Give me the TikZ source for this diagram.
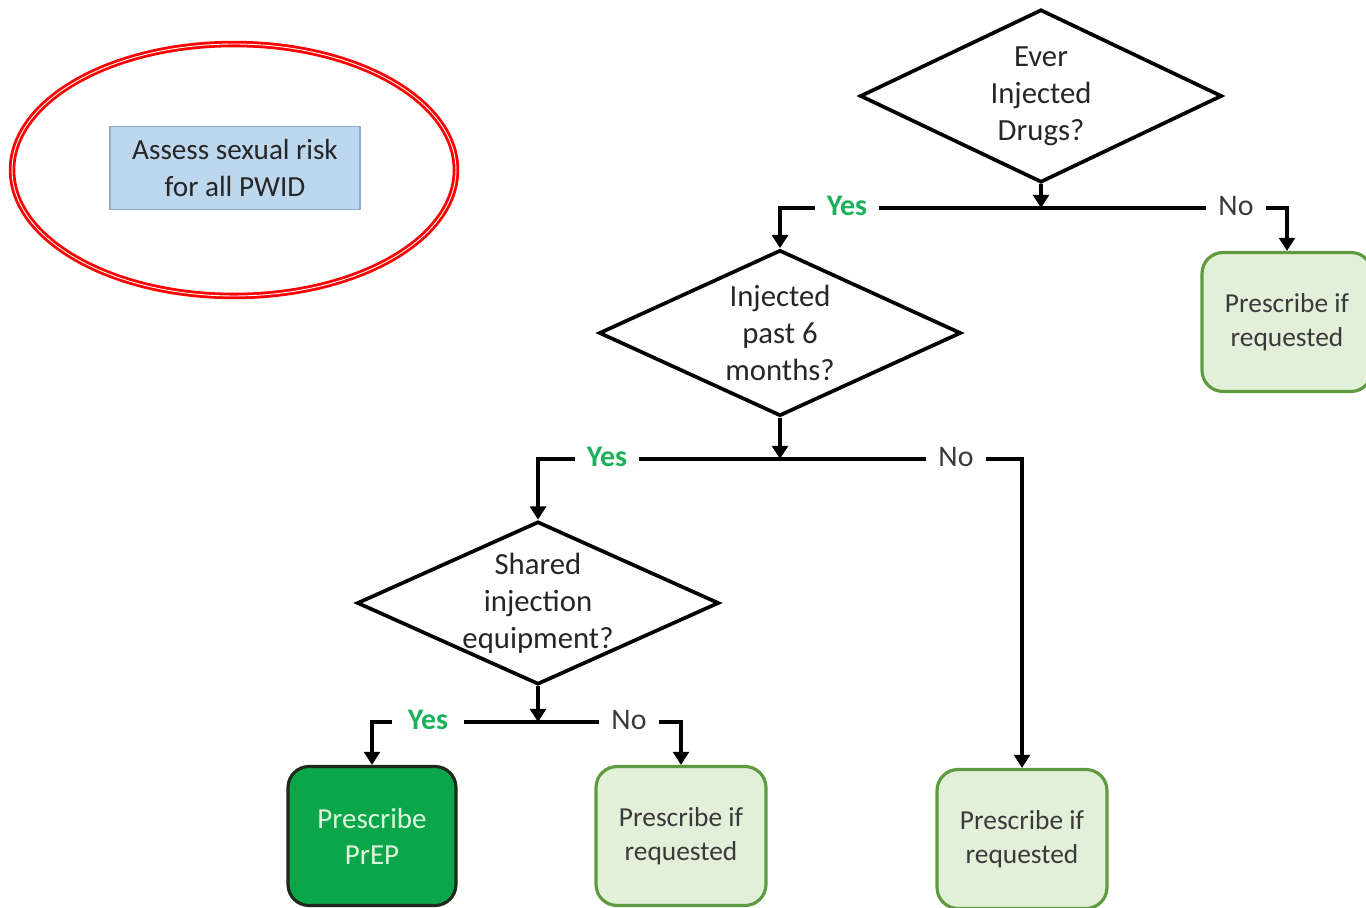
\documentclass[tikz,border=0pt]{standalone}
\usepackage{fontspec}
\setmainfont{Carlito}
\usetikzlibrary{arrows.meta,shapes.geometric}
\definecolor{yesgreen}{HTML}{1BB15A}
\definecolor{prepgreen}{HTML}{0CA64A}
\definecolor{prepedge}{HTML}{1C2A1C}
\definecolor{preptext}{HTML}{DDF5DD}
\definecolor{palegreen}{HTML}{E2EFD9}
\definecolor{edgegreen}{HTML}{5E9A40}
\definecolor{boxblue}{HTML}{BDD7EE}
\definecolor{edgeblue}{HTML}{8FAACB}
\definecolor{txtgray}{HTML}{3A3A3A}

\begin{document}
\begin{tikzpicture}[x=0.02cm,y=-0.02cm,>={Triangle[length=7.5pt,width=9pt]},
  question/.style={diamond,draw,line width=2.1pt,inner sep=0pt,aspect=2.1,
    minimum width=7.24cm},
  asktext/.style={align=center,font=\fontsize{17.5}{21}\selectfont,text=black!85},
  advice/.style={draw=edgegreen,fill=palegreen,line width=1.8pt,rounded corners=0.42cm,
    align=center,minimum width=3.4cm,minimum height=2.78cm,text=txtgray,
    font=\fontsize{15.6}{19.3}\selectfont},
  yes/.style={fill=white,inner xsep=7pt,text=yesgreen,font=\fontsize{17}{20}\selectfont\bfseries},
  no/.style={fill=white,inner xsep=7pt,text=txtgray,font=\fontsize{17}{20}\selectfont},
  flow/.style={line width=2.2pt}]
\useasboundingbox (0,0) rectangle (1366,908);

% assessment note
\draw[red,line width=1.6pt,double=white,double distance=0.5pt] (234,170) ellipse [x radius=4.44cm, y radius=2.52cm];
\node[draw=edgeblue,fill=boxblue,line width=0.8pt,align=center,minimum width=5cm,minimum height=1.66cm,
  text=black!85,font=\fontsize{16.6}{21}\selectfont] (assess) at (235,168) {Assess sexual risk\\for all PWID};

% decisions
\node[question,minimum height=3.46cm,label={[asktext]center:Ever\\Injected\\Drugs?}] (ever) at (1041,96) {};
\node[question,minimum height=3.32cm,label={[asktext]center:Injected\\past 6\\months?}] (recent) at (780,333) {};
\node[question,minimum height=3.26cm,label={[asktext]center:Shared\\injection\\equipment?}] (shared) at (538,603) {};

% outcomes
\node[advice] (askA) at (1287,322) {Prescribe if\\requested};
\node[advice] (askB) at (1022,839) {Prescribe if\\requested};
\node[advice] (askC) at (681,836) {Prescribe if\\requested};
\node[advice,draw=prepedge,fill=prepgreen,text=preptext,minimum width=3.36cm,
  font=\fontsize{16.5}{20.5}\selectfont] (prep) at (372,836) {Prescribe\\PrEP};

% branches
\coordinate (splitA) at (ever.south |- 0,208);
\coordinate (splitB) at (recent.south |- 0,459);
\coordinate (splitC) at (shared.south |- 0,722);

\draw[flow,->] (ever.south) -- (splitA);
\draw[flow,->] (splitA) -| (recent.north);
\draw[flow,->] (splitA) -| (askA.north);
\node[yes] at (847,206) {Yes};
\node[no] at (1236,206) {No};

\draw[flow,->] (recent.south) -- (splitB);
\draw[flow,->] (splitB) -| (shared.north);
\draw[flow,->] (splitB) -| (askB.north);
\node[yes] at (607,457) {Yes};
\node[no] at (956,457) {No};

\draw[flow,->] (shared.south) -- (splitC);
\draw[flow,->] (splitC) -| (prep.north);
\draw[flow,->] (splitC) -| (askC.north);
\node[yes,inner xsep=9pt] at (428,720) {Yes};
\node[no] at (629,720) {No};
\end{tikzpicture}
\end{document}
